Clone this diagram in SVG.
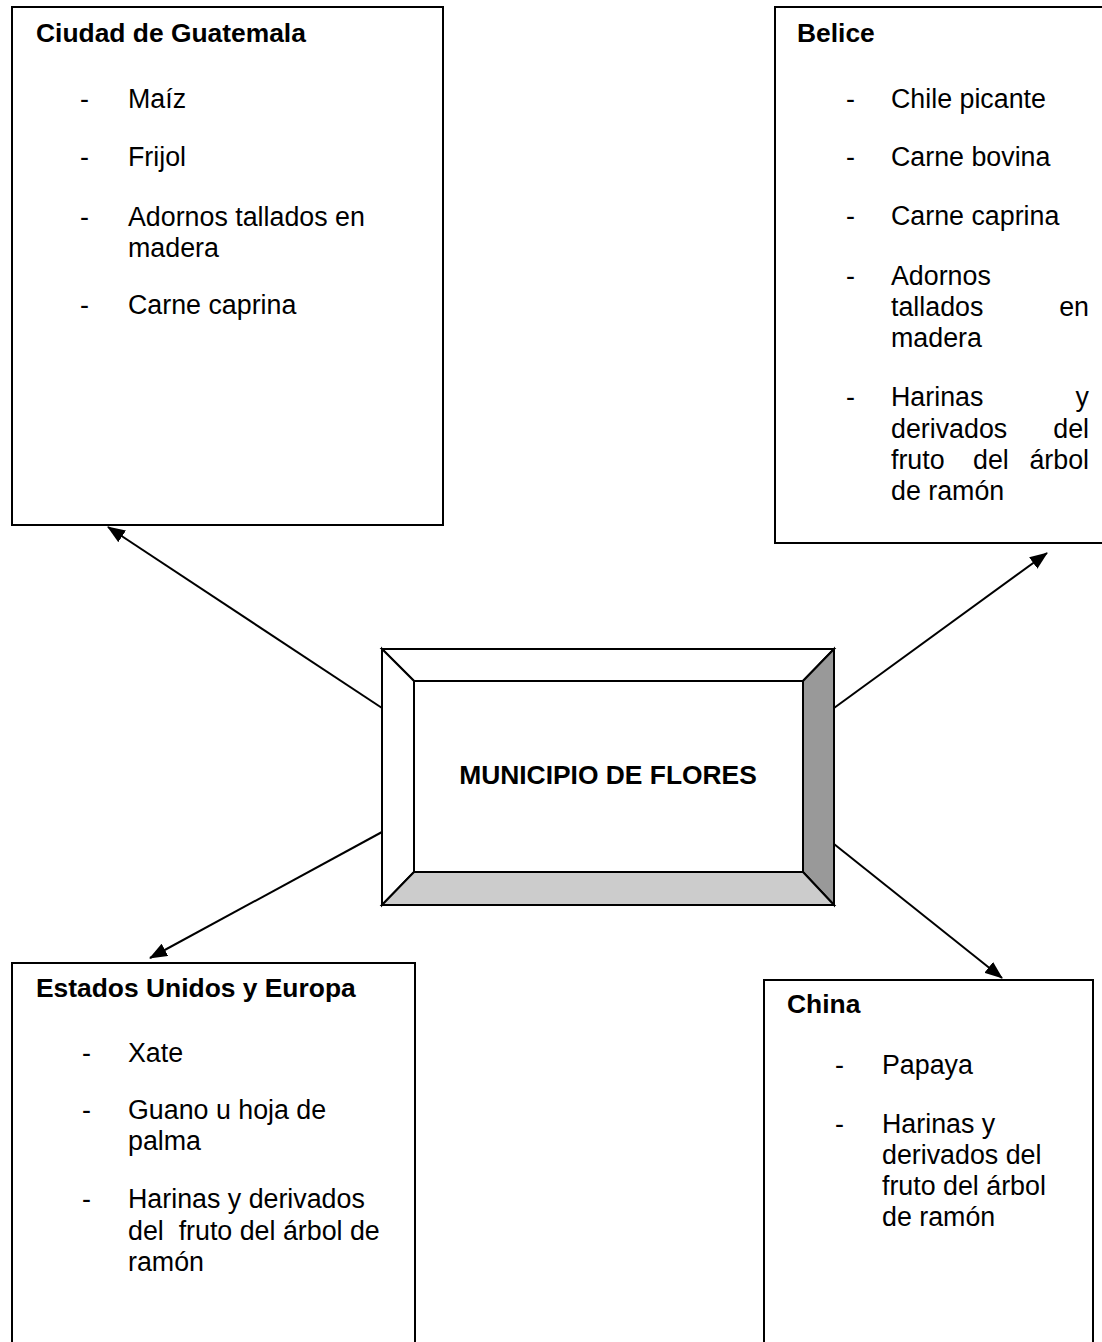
<svg xmlns="http://www.w3.org/2000/svg" width="1102" height="1342" viewBox="0 0 1102 1342">
<style>
.t{font-family:"Liberation Sans",Arial,sans-serif;font-size:26.8px;fill:#000}
.b{font-weight:bold;font-size:26.4px}
.box{fill:#fff;stroke:#000;stroke-width:2}
.bev{stroke:#000;stroke-width:2;stroke-linejoin:miter}
.conn line{stroke:#000;stroke-width:2}
</style>
<defs>
<marker id="ah" viewBox="0 0 18 14" refX="17" refY="7" markerWidth="18" markerHeight="14" markerUnits="userSpaceOnUse" orient="auto">
<path d="M0,0 L18,7 L0,14 z" fill="#000"/>
</marker>
</defs>
<rect width="1102" height="1342" fill="#fff"/>

<g id="conectores" class="conn">
<line x1="382" y1="708" x2="108" y2="527" marker-end="url(#ah)"/>
<line x1="834" y1="708" x2="1047" y2="553" marker-end="url(#ah)"/>
<line x1="382" y1="832" x2="150" y2="958" marker-end="url(#ah)"/>
<line x1="834" y1="844" x2="1002" y2="978" marker-end="url(#ah)"/>
</g>

<g id="ciudad-guatemala">
<rect class="box" x="12" y="7" width="431" height="518"/>
<text class="t b" x="36" y="42">Ciudad de Guatemala</text>
<text class="t" x="80" y="108">-</text><text class="t" x="128" y="108">Maíz</text>
<text class="t" x="80" y="166">-</text><text class="t" x="128" y="166">Frijol</text>
<text class="t" x="80" y="226">-</text><text class="t" x="128" y="226">Adornos tallados en</text>
<text class="t" x="128" y="257">madera</text>
<text class="t" x="80" y="314">-</text><text class="t" x="128" y="314">Carne caprina</text>
</g>

<g id="belice">
<rect class="box" x="775" y="7" width="340" height="536"/>
<text class="t b" x="797" y="42">Belice</text>
<text class="t" x="846" y="108">-</text><text class="t" x="891" y="108">Chile picante</text>
<text class="t" x="846" y="166">-</text><text class="t" x="891" y="166">Carne bovina</text>
<text class="t" x="846" y="225">-</text><text class="t" x="891" y="225">Carne caprina</text>
<text class="t" x="846" y="285">-</text><text class="t" x="891" y="285">Adornos</text>
<text class="t" x="891" y="316">tallados</text><text class="t" x="1089" y="316" text-anchor="end">en</text>
<text class="t" x="891" y="347">madera</text>
<text class="t" x="846" y="406">-</text><text class="t" x="891" y="406">Harinas</text><text class="t" x="1089" y="406" text-anchor="end">y</text>
<text class="t" x="891" y="438">derivados</text><text class="t" x="1089" y="438" text-anchor="end">del</text>
<text class="t" x="891" y="469">fruto</text><text class="t" x="973" y="469">del</text><text class="t" x="1089" y="469" text-anchor="end">árbol</text>
<text class="t" x="891" y="500">de ramón</text>
</g>

<g id="municipio-flores">
<polygon class="bev" points="382,649 834,649 803,681 414,681" fill="#fff"/>
<polygon class="bev" points="382,649 414,681 414,872 382,905" fill="#fff"/>
<polygon class="bev" points="834,649 834,905 803,872 803,681" fill="#999"/>
<polygon class="bev" points="382,905 414,872 803,872 834,905" fill="#ccc"/>
<rect class="box" x="414" y="681" width="389" height="191"/>
<text class="t b" x="608" y="784" text-anchor="middle">MUNICIPIO DE FLORES</text>
</g>

<g id="estados-unidos-europa">
<rect class="box" x="12" y="963" width="403" height="400"/>
<text class="t b" x="36" y="997">Estados Unidos y Europa</text>
<text class="t" x="82" y="1062">-</text><text class="t" x="128" y="1062">Xate</text>
<text class="t" x="82" y="1119">-</text><text class="t" x="128" y="1119">Guano u hoja de</text>
<text class="t" x="128" y="1150">palma</text>
<text class="t" x="82" y="1208">-</text><text class="t" x="128" y="1208">Harinas y derivados</text>
<text class="t" x="128" y="1240" xml:space="preserve">del  fruto del árbol de</text>
<text class="t" x="128" y="1271">ramón</text>
</g>

<g id="china">
<rect class="box" x="764" y="980" width="329" height="400"/>
<text class="t b" x="787" y="1013">China</text>
<text class="t" x="835" y="1074">-</text><text class="t" x="882" y="1074">Papaya</text>
<text class="t" x="835" y="1133">-</text><text class="t" x="882" y="1133">Harinas y</text>
<text class="t" x="882" y="1164">derivados del</text>
<text class="t" x="882" y="1195">fruto del árbol</text>
<text class="t" x="882" y="1226">de ramón</text>
</g>
</svg>
